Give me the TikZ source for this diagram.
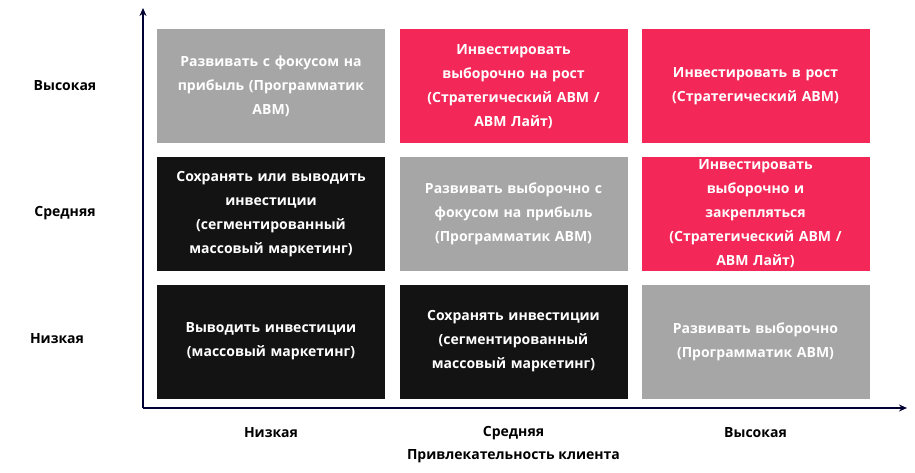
\documentclass[tikz,border=0pt]{standalone}
\usepackage{fontspec}
\setmainfont{Open Sans}
\usetikzlibrary{arrows.meta}
\definecolor{cgray}{HTML}{A6A6A6}
\definecolor{cpink}{HTML}{F42858}
\definecolor{cblack}{HTML}{131313}
\begin{document}
\begin{tikzpicture}[x=1pt,y=-1pt,
  cell/.style={minimum width=228pt,minimum height=114pt,inner sep=0pt,text=white,font=\fontsize{14}{24}\selectfont\bfseries,align=center,text width=215pt},
  lab/.style={font=\fontsize{14}{17}\selectfont\bfseries,text=black}]
\useasboundingbox (0,0) rectangle (915,473);
\coordinate (o) at (143,408);
\coordinate (top) at (143,8);
\coordinate (right) at (907,408);
\draw[line width=1.6pt,-{Stealth[length=8pt,width=7pt]},color=black!80!blue] (o) -- (top);
\draw[line width=1.6pt,-{Stealth[length=8pt,width=7pt]},color=black!80!blue] (o) -- (right);
\node[cell,fill=cgray] (c11) at (271,86.5) {Развивать с фокусом на\\прибыль (Программатик\\ABM)};
\node[cell,fill=cpink] (c12) at (513.5,86.5) {Инвестировать\\выборочно на рост\\(Стратегический ABM /\\ABM Лайт)};
\node[cell,fill=cpink] (c13) at (755.5,86.5) {Инвестировать в рост\\(Стратегический ABM)};
\node[cell,fill=cblack] (c21) at (271,214) {Сохранять или выводить\\инвестиции\\(сегментированный\\массовый маркетинг)};
\node[cell,fill=cgray] (c22) at (513.5,214) {Развивать выборочно с\\фокусом на прибыль\\(Программатик ABM)};
\node[cell,fill=cpink] (c23) at (755.5,214) {Инвестировать\\выборочно и\\закрепляться\\(Стратегический ABM /\\ABM Лайт)};
\node[cell,fill=cblack] (c31) at (271,341.5) {Выводить инвестиции\\(массовый маркетинг)};
\node[cell,fill=cblack] (c32) at (513.5,341.5) {Сохранять инвестиции\\(сегментированный\\массовый маркетинг)};
\node[cell,fill=cgray] (c33) at (755.5,341.5) {Развивать выборочно\\(Программатик ABM)};
\node[lab] (r1) at (65,86) {Высокая};
\node[lab] (r2) at (65,213) {Средняя};
\node[lab] (r3) at (57,339) {Низкая};
\node[lab] (x1) at (271,433) {Низкая};
\node[lab] (x2) at (513.5,433) {Средняя};
\node[lab] (x3) at (755.5,433) {Высокая};
\node[lab] (xt) at (513.5,456) {Привлекательность клиента};
\end{tikzpicture}
\end{document}
